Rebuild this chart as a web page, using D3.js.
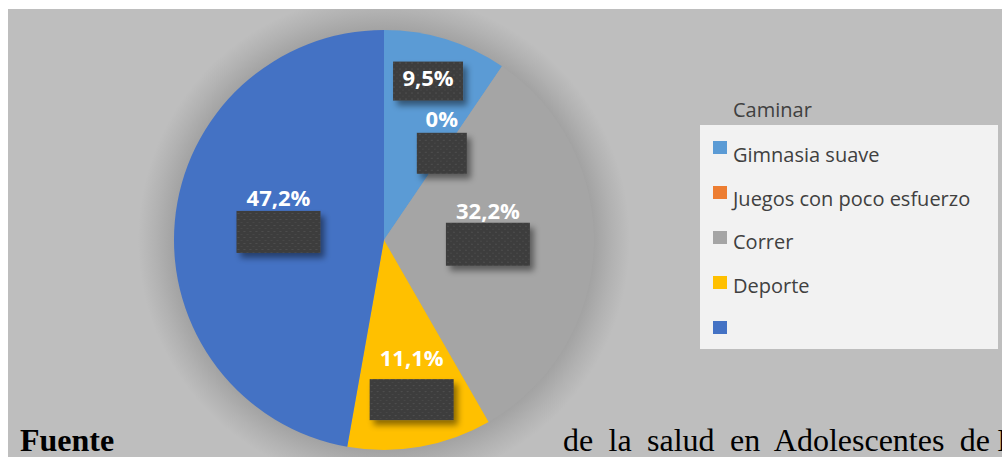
<!DOCTYPE html>
<html>
<head>
<meta charset="utf-8">
<script src="https://cdn.jsdelivr.net/npm/d3@7"></script>
<style>
  body { margin: 0; background: #fff; }
  svg { display: block; }
</style>
</head>
<body>
<svg width="1002" height="457"></svg>
<script>
// data
var categories = ['Gimnasia suave', 'Juegos con poco esfuerzo', 'Correr', 'Deporte', ''];
var values = [9.5, 0, 32.2, 11.1, 47.2];
var colors = ['#5B9BD5', '#ED7D31', '#A5A5A5', '#FFC000', '#4472C4'];
var legendTitle = 'Caminar';
var footLeft = 'Fuente';
var footRight = 'de la salud en Adolescentes de';

// label nudges from the arc centroid (text) and box placement
var labelLayout = [
  { dx: 7, dy: -34, boxW: 70, boxTop: -24, boxH: 39 },
  { dx: -13, dy: -9, boxW: 50, boxTop: 6, boxH: 41 },
  { dx: -22, dy: -26, boxW: 84, boxTop: 4, boxH: 43 },
  { dx: 6, dy: 2, boxW: 84, boxTop: 13, boxH: 41 },
  { dx: 20, dy: -23, boxW: 84, boxTop: 5, boxH: 42 }
];

var svg = d3.select('svg'),
  width = +svg.attr('width'),
  height = +svg.attr('height');

var cx = 384, cy = 240, radius = 210;

var defs = svg.append('defs');

defs.append('clipPath').attr('id', 'area')
  .append('rect')
  .attr('x', 8).attr('y', 9)
  .attr('width', width - 8).attr('height', height - 9);

var bgGrad = defs.append('radialGradient')
  .attr('id', 'halo')
  .attr('gradientUnits', 'userSpaceOnUse')
  .attr('cx', cx).attr('cy', cy).attr('r', radius + 36);
bgGrad.append('stop').attr('offset', '0.85').attr('stop-color', '#a2a2a2');
bgGrad.append('stop').attr('offset', '0.93').attr('stop-color', '#b2b2b2');
bgGrad.append('stop').attr('offset', '1').attr('stop-color', '#bebebe');

var pat = defs.append('pattern')
  .attr('id', 'dots')
  .attr('patternUnits', 'userSpaceOnUse')
  .attr('width', 6).attr('height', 6);
pat.append('rect').attr('width', 6).attr('height', 6).attr('fill', '#3d3d3d');
pat.append('rect').attr('x', 1).attr('y', 1).attr('width', 2).attr('height', 1).attr('fill', '#4f4f4f');
pat.append('rect').attr('x', 4).attr('y', 4).attr('width', 2).attr('height', 1).attr('fill', '#474747');

var shadow = defs.append('filter').attr('id', 'boxShadow')
  .attr('x', '-20%').attr('y', '-20%').attr('width', '150%').attr('height', '160%');
shadow.append('feDropShadow')
  .attr('dx', 4).attr('dy', 5).attr('stdDeviation', 3)
  .attr('flood-color', '#000').attr('flood-opacity', 0.45);

// chart area background
var area = svg.append('g').attr('clip-path', 'url(#area)');
area.append('rect')
  .attr('x', 8).attr('y', 9)
  .attr('width', width - 8).attr('height', height - 9)
  .attr('fill', '#bebebe');

area.append('circle')
  .attr('cx', cx).attr('cy', cy).attr('r', radius + 36)
  .attr('fill', 'url(#halo)');

var pie = d3.pie().sort(null).value(function(d) { return d; });
var arcs = pie(values);
var arc = d3.arc().innerRadius(0).outerRadius(radius);
var labelArc = d3.arc().innerRadius(radius * 0.6).outerRadius(radius * 0.6);

var g = svg.append('g').attr('transform', 'translate(' + cx + ',' + cy + ')');

g.selectAll('path')
  .data(arcs)
  .enter()
  .append('path')
  .attr('d', arc)
  .attr('fill', function(d, i) { return colors[i]; });

var fmt = function(v) {
  return d3.format('.1~f')(v).replace('.', ',') + '%';
};

var labels = g.selectAll('g.lbl')
  .data(arcs)
  .enter()
  .append('g')
  .attr('class', 'lbl')
  .attr('transform', function(d, i) {
    var c = labelArc.centroid(d);
    var l = labelLayout[i];
    return 'translate(' + (c[0] + l.dx) + ',' + (c[1] + l.dy) + ')';
  });

labels.append('rect')
  .attr('x', function(d, i) { return -labelLayout[i].boxW / 2; })
  .attr('y', function(d, i) { return labelLayout[i].boxTop; })
  .attr('width', function(d, i) { return labelLayout[i].boxW; })
  .attr('height', function(d, i) { return labelLayout[i].boxH; })
  .attr('fill', 'url(#dots)')
  .attr('filter', 'url(#boxShadow)');

labels.append('text')
  .attr('text-anchor', 'middle')
  .attr('font-family', 'Open Sans, sans-serif')
  .attr('font-weight', 'bold')
  .attr('font-size', 22)
  .attr('fill', '#fff')
  .text(function(d) { return fmt(d.data); });

// legend
svg.append('text')
  .attr('x', 733).attr('y', 117)
  .attr('font-family', 'Open Sans, sans-serif')
  .attr('font-size', 20)
  .attr('fill', '#404040')
  .text(legendTitle);

svg.append('rect')
  .attr('x', 700).attr('y', 125)
  .attr('width', 298).attr('height', 224)
  .attr('fill', '#f2f2f2');

var markY = d3.scalePoint().domain(d3.range(categories.length)).range([141, 321]);
var textY = d3.scalePoint().domain(d3.range(categories.length)).range([162, 336]);

var item = svg.selectAll('g.leg')
  .data(categories)
  .enter()
  .append('g')
  .attr('class', 'leg');

item.append('rect')
  .attr('x', 713)
  .attr('y', function(d, i) { return markY(i); })
  .attr('width', 14).attr('height', 13)
  .attr('fill', function(d, i) { return colors[i]; });

item.append('text')
  .attr('x', 733)
  .attr('y', function(d, i) { return textY(i); })
  .attr('font-family', 'Open Sans, sans-serif')
  .attr('font-size', 20)
  .attr('fill', '#404040')
  .text(function(d) { return d; });

// footer text from the page below the chart
svg.append('text')
  .attr('x', 20).attr('y', 451)
  .attr('font-family', 'Liberation Serif, serif')
  .attr('font-weight', 'bold')
  .attr('font-size', 32)
  .attr('fill', '#000')
  .text(footLeft);

var right = svg.append('text')
  .attr('x', 563).attr('y', 451)
  .attr('font-family', 'Liberation Serif, serif')
  .attr('font-size', 32)
  .attr('fill', '#000')
  .text(footRight);
var natural = right.node().getComputedTextLength();
var gaps = footRight.split(' ').length - 1;
right.attr('word-spacing', Math.max(0, (427 - natural) / gaps));

svg.append('text')
  .attr('x', 997).attr('y', 451)
  .attr('font-family', 'Liberation Serif, serif')
  .attr('font-size', 32)
  .attr('fill', '#000')
  .text('I');
</script>
</body>
</html>
